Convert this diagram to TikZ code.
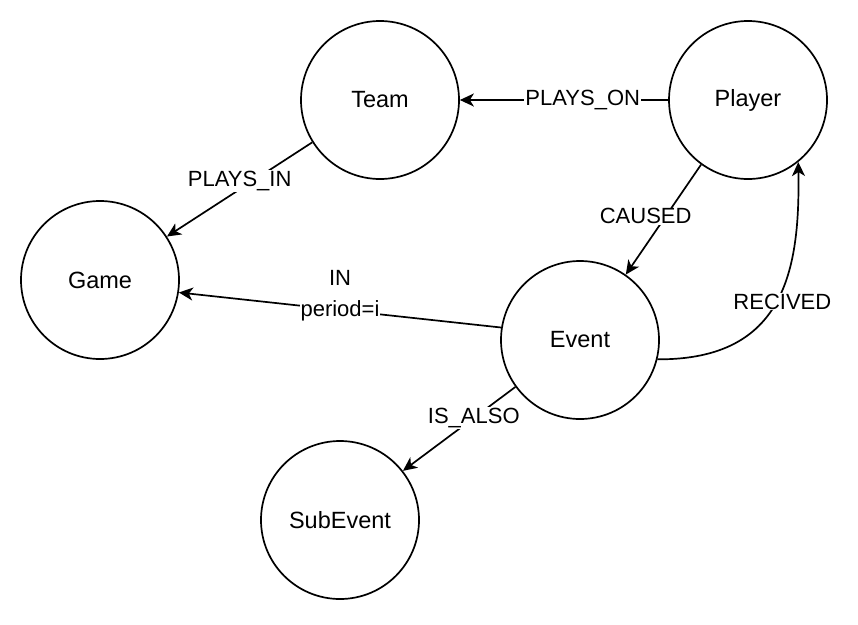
\documentclass[tikz,border=0pt]{standalone}
\usepackage{fontspec}
\setmainfont{Liberation Sans}
\usetikzlibrary{arrows.meta}
\begin{document}
\begin{tikzpicture}[x=1pt,y=-1pt,
  ent/.style={circle,draw,line width=1.7pt,minimum size=158pt,inner sep=0pt,font=\fontsize{23.5}{28}\selectfont},
  rel/.style={line width=1.7pt,-{Stealth[length=14pt,width=13pt,inset=4pt]}},
  lbl/.style={fill=white,inner sep=1pt,font=\fontsize{22}{31}\selectfont,align=center}]
\useasboundingbox (0,0) rectangle (858,624);
\node[ent] (team) at (380,100) {Team};
\node[ent] (player) at (748,100) {Player};
\node[ent] (game) at (100,280) {Game};
\node[ent] (event) at (580,340) {Event};
\node[ent] (sub) at (340,520) {SubEvent};

\draw[rel] (player.west) -- node[lbl,pos=0.41] {PLAYS\_ON} (team.east);
\draw[rel] (team.212) -- node[lbl,pos=0.41,xshift=-13pt] {PLAYS\_IN} (game.33);
\draw[rel] (player.234) -- node[lbl,pos=0.47,xshift=-20pt] {CAUSED} (event.55);
\draw[rel] (event.171) -- node[lbl,pos=0.5,yshift=14pt] {IN\\period=i} (game.351);
\draw[rel] (event.216) -- node[lbl,pos=0.37] {IS\_ALSO} (sub.38);
\draw[rel] (event.-14) .. controls (785,360) and (800,270) .. node[lbl,pos=0.5,xshift=6pt] {RECIVED} (player.-51);
\end{tikzpicture}
\end{document}
